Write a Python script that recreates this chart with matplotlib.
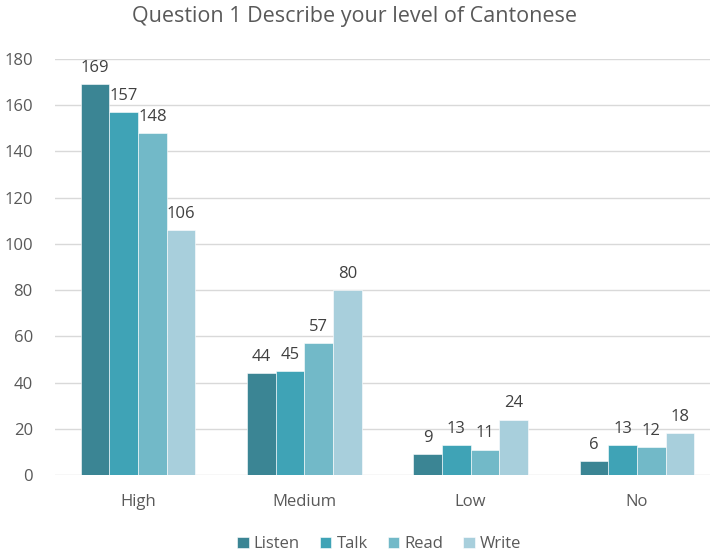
import matplotlib.pyplot as plt
import numpy as np

plt.rcParams['font.family'] = ['Open Sans', 'DejaVu Sans']

categories = ["High", "Medium", "Low", "No"]
series = ["Listen", "Talk", "Read", "Write"]
listen = [169, 44, 9, 6]
talk = [157, 45, 13, 13]
read = [148, 57, 11, 12]
write = [106, 80, 24, 18]
values = [listen, talk, read, write]
colors = ["#3B8594", "#3FA3B6", "#72B9C8", "#A8CFDC"]
text_col = "#595959"

fig = plt.figure(figsize=(7.1, 5.53), dpi=100)
ax = fig.add_axes([55 / 710, 78 / 553, 655 / 710, 416 / 553])

x = np.arange(len(categories))
w = 0.1725
for i, (name, vals, c) in enumerate(zip(series, values, colors)):
    pos = x + (i - 1.5) * w
    bars = ax.bar(pos, vals, width=w, color=c, label=name, zorder=3,
                  edgecolor="white", linewidth=0.4)
    for b, v in zip(bars, vals):
        ax.annotate(str(v), (b.get_x() + b.get_width() / 2, v),
                    xytext=(0, 6), textcoords="offset points",
                    ha="center", va="bottom", fontsize=12, color="#404040")

ax.set_xlim(-0.5, 3.5 - 10 / 166.3)
ax.set_ylim(0, 180)
ax.set_yticks(range(0, 181, 20))
ax.set_xticks(x)
ax.set_xticklabels(categories)
ax.tick_params(axis="both", length=0, labelsize=12, colors=text_col)
ax.tick_params(axis="x", pad=14)
ax.tick_params(axis="y", pad=16)
ax.grid(axis="y", color="#D9D9D9", linewidth=1, zorder=0)
for s in ax.spines.values():
    s.set_visible(False)

fig.suptitle("Question 1 Describe your level of Cantonese", y=0.99,
             fontsize=15.5, color=text_col)
fig.legend(loc="lower center", ncol=4, bbox_to_anchor=(0.534, -0.026),
           frameon=False, fontsize=12, labelcolor=text_col,
           handlelength=0.7, handleheight=0.7, handletextpad=0.3,
           columnspacing=1.2)

fig.savefig("out.png", dpi=100)
